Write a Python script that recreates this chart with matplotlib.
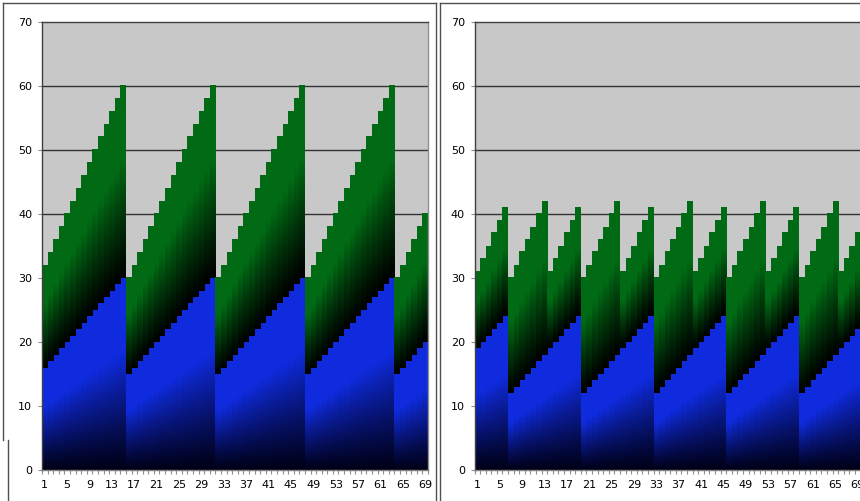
import numpy as np
import matplotlib
matplotlib.use("Agg")
import matplotlib.pyplot as plt
from matplotlib.lines import Line2D

# categories (1..69) on both charts
categories = list(range(1, 70))

# left chart: lower (blue) and upper (green) stacked series
left_blue = [16, 17, 18, 19, 20, 21, 22, 23, 24, 25, 26, 27, 28, 29, 30,
             15, 16, 17, 18, 19, 20, 21, 22, 23, 24, 25, 26, 27, 28, 29, 30,
             15, 16, 17, 18, 19, 20, 21, 22, 23, 24, 25, 26, 27, 28, 29, 30,
             15, 16, 17, 18, 19, 20, 21, 22, 23, 24, 25, 26, 27, 28, 29, 30,
             15, 16, 17, 18, 19, 20]
left_green = [16, 17, 18, 19, 20, 21, 22, 23, 24, 25, 26, 27, 28, 29, 30,
              15, 16, 17, 18, 19, 20, 21, 22, 23, 24, 25, 26, 27, 28, 29, 30,
              15, 16, 17, 18, 19, 20, 21, 22, 23, 24, 25, 26, 27, 28, 29, 30,
              15, 16, 17, 18, 19, 20, 21, 22, 23, 24, 25, 26, 27, 28, 29, 30,
              15, 16, 17, 18, 19, 20]

# right chart
right_blue = [19, 20, 21, 22, 23, 24,
              12, 13, 14, 15, 16, 17, 18, 19, 20, 21, 22, 23, 24,
              12, 13, 14, 15, 16, 17, 18, 19, 20, 21, 22, 23, 24,
              12, 13, 14, 15, 16, 17, 18, 19, 20, 21, 22, 23, 24,
              12, 13, 14, 15, 16, 17, 18, 19, 20, 21, 22, 23, 24,
              12, 13, 14, 15, 16, 17, 18, 19, 20, 21, 22]
right_green = [12, 13, 14, 15, 16, 17, 18, 19, 20, 21, 22, 23, 24,
               12, 13, 14, 15, 16, 17, 18, 19, 20, 21, 22, 23, 24,
               12, 13, 14, 15, 16, 17, 18, 19, 20, 21, 22, 23, 24,
               12, 13, 14, 15, 16, 17, 18, 19, 20, 21, 22, 23, 24,
               12, 13, 14, 15, 16, 17, 18, 19, 20, 21, 22, 23, 24,
               12, 13, 14, 15]

tick_labels = [str(c) for c in categories]

plt.rcParams['font.family'] = ['DejaVu Sans']
plt.rcParams['font.size'] = 8

BLUE_TOP = np.array([0.06, 0.17, 0.87])
BLUE_BOT = np.array([0.0, 0.0, 0.09])
GREEN_TOP = np.array([0.0, 0.42, 0.08])
GREEN_BOT = np.array([0.0, 0.0, 0.0])


def gradiente(bot, top):
    t = np.linspace(0, 1, 200)
    f = np.clip(t / 0.62, 0, 1) ** 1.1
    col = bot[None, :] + (top - bot)[None, :] * f[:, None]
    return col[:, None, :]


grad_blue = gradiente(BLUE_BOT, BLUE_TOP)
grad_green = gradiente(GREEN_BOT, GREEN_TOP)


def pintar_barras(ax, bars, grad):
    for b in bars:
        x, y, w, h = b.get_x(), b.get_y(), b.get_width(), b.get_height()
        b.set_facecolor('none')
        b.set_edgecolor('none')
        ax.imshow(grad, extent=[x, x + w, y, y + h], origin='lower',
                  aspect='auto', interpolation='bilinear', zorder=2)


def grafico(ax, blue, green):
    ax.set_facecolor('#c8c8c8')
    for yv in range(10, 70, 10):
        ax.axhline(yv, color='#333333', lw=1, zorder=1)
    b1 = ax.bar(categories, blue, width=1.0, zorder=2)
    b2 = ax.bar(categories, green, bottom=blue, width=1.0, zorder=2)
    pintar_barras(ax, b1, grad_blue)
    pintar_barras(ax, b2, grad_green)
    ax.set_xlim(0.5, 69.5)
    ax.set_ylim(0, 70)
    ax.set_yticks(range(0, 71, 10))
    ax.set_xticks(categories[::4])
    ax.set_xticklabels(tick_labels[::4])
    ax.set_xticks(np.arange(0.5, 70, 1.0), minor=True)
    ax.tick_params(axis='x', which='major', length=0, pad=7.5)
    ax.tick_params(axis='x', which='minor', length=3, color='#909090', width=0.8)
    ax.tick_params(axis='y', length=3, color='#909090', width=0.8, pad=4)
    ax.spines['top'].set_color('#404040')
    ax.spines['left'].set_color('#404040')
    ax.spines['bottom'].set_color('#808080')
    ax.spines['right'].set_color('#909090')
    for s in ax.spines.values():
        s.set_linewidth(1)
        s.set_zorder(5)


W, H = 860, 501
fig = plt.figure(figsize=(W / 100, H / 100), dpi=100)

ax1 = fig.add_axes([42 / W, 1 - 470 / H, 386 / W, 448.3 / H])
ax2 = fig.add_axes([474.5 / W, 1 - 470 / H, 386 / W, 448.3 / H])
grafico(ax1, left_blue, left_green)
grafico(ax2, right_blue, right_green)


def linea(x0, y0, x1, y1):
    fig.add_artist(Line2D([x0 / W, x1 / W], [1 - y0 / H, 1 - y1 / H],
                          transform=fig.transFigure, color='#505050', lw=1))


# marcos de los dos graficos
linea(3, 3, 436, 3)
linea(3, 3, 3, 440)
linea(8, 440, 8, 501)
linea(436, 3, 436, 501)
linea(440, 3, 860, 3)
linea(440, 3, 440, 501)

fig.savefig('out.png', dpi=100)
